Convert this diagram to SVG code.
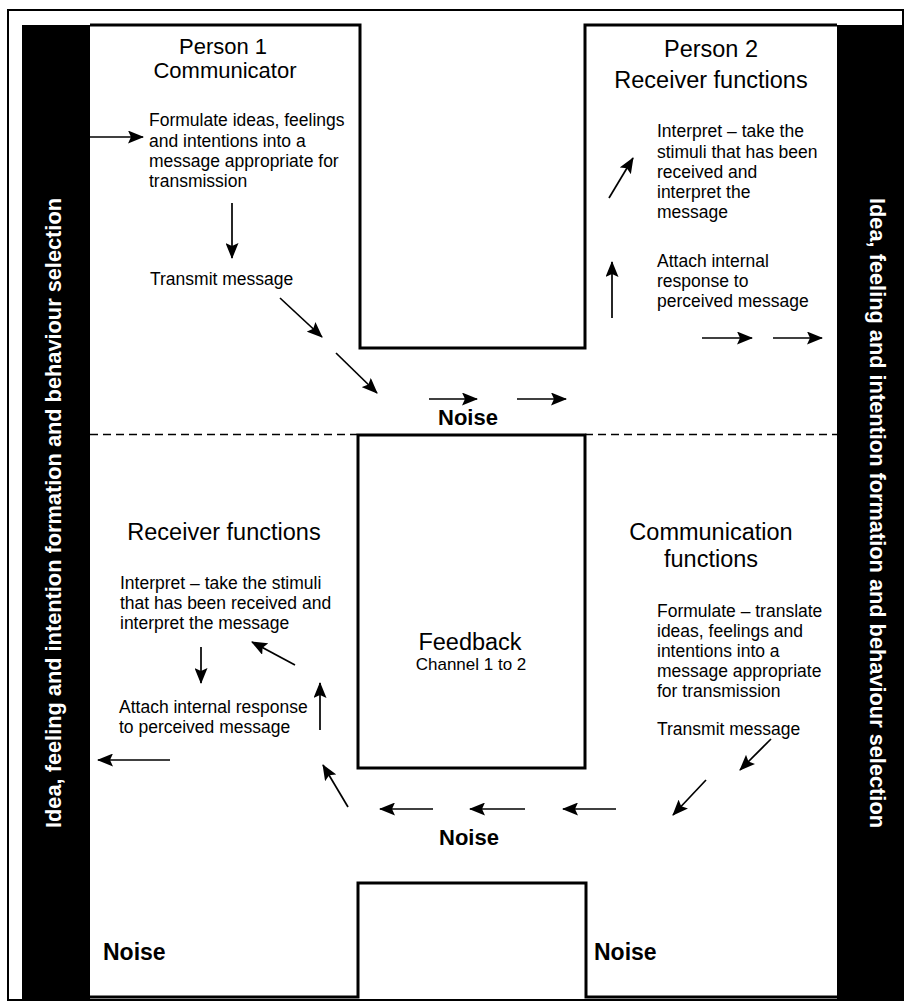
<svg xmlns="http://www.w3.org/2000/svg" width="905" height="1007" viewBox="0 0 905 1007">
<style>
.t{font-family:"Liberation Sans",Arial,sans-serif;font-size:17.5px;fill:#000}
.h{font-family:"Liberation Sans",Arial,sans-serif;font-size:23.5px;fill:#000;text-anchor:middle}
.n{font-family:"Liberation Sans",Arial,sans-serif;font-size:22px;font-weight:bold;fill:#000}
.bar{font-family:"Liberation Sans",Arial,sans-serif;font-size:21.5px;font-weight:bold;fill:#fff;text-anchor:middle}
.ol{fill:none;stroke:#000;stroke-width:3}
.ar{fill:none;stroke:#000;stroke-width:1.7;marker-end:url(#ah)}
</style>
<defs>
<marker id="ah" viewBox="0 0 16 13" refX="15" refY="6.5" markerWidth="16" markerHeight="13" orient="auto" markerUnits="userSpaceOnUse">
<path d="M0,0 L16,6.5 L0,13 L3,6.5 z" fill="#000"/>
</marker>
</defs>
<rect width="905" height="1007" fill="#fff"/>
<rect x="8" y="10" width="895" height="990" fill="none" stroke="#000" stroke-width="2"/>

<g id="left-bar">
<rect x="22" y="25" width="68" height="974" fill="#000"/>
<text class="bar" transform="translate(60.5,513) rotate(-90)" textLength="630" lengthAdjust="spacingAndGlyphs">Idea, feeling and intention formation and behaviour selection</text>
</g>
<g id="right-bar">
<rect x="837" y="25" width="66" height="974" fill="#000"/>
<text class="bar" transform="translate(869.5,513) rotate(90)" textLength="630" lengthAdjust="spacingAndGlyphs">Idea, feeling and intention formation and behaviour selection</text>
</g>

<g id="outline">
<path class="ol" d="M90 25 H360 V348 H585 V25 H837"/>
<path class="ol" d="M90 997 H358 V883 H586 V997 H837"/>
<path d="M90 434.5 H357 M585 434.5 H837" fill="none" stroke="#000" stroke-width="1.5" stroke-dasharray="8,5"/>
</g>

<g id="person1">
<text class="h" x="223" y="54" style="font-size:22px">Person 1</text>
<text class="h" x="225" y="78" style="font-size:22px">Communicator</text>
<text class="t" x="149" y="126">Formulate ideas, feelings</text>
<text class="t" x="149" y="147">and intentions into a</text>
<text class="t" x="149" y="167">message appropriate for</text>
<text class="t" x="149" y="187">transmission</text>
<text class="t" x="150" y="285">Transmit message</text>
</g>

<g id="person2">
<text class="h" x="711" y="57">Person 2</text>
<text class="h" x="711" y="88">Receiver functions</text>
<text class="t" x="657" y="137">Interpret – take the</text>
<text class="t" x="657" y="158">stimuli that has been</text>
<text class="t" x="657" y="178">received and</text>
<text class="t" x="657" y="198">interpret the</text>
<text class="t" x="657" y="218">message</text>
<text class="t" x="657" y="267">Attach internal</text>
<text class="t" x="657" y="287">response to</text>
<text class="t" x="657" y="307">perceived message</text>
</g>

<g id="noise-top">
<text class="n" x="438" y="425">Noise</text>
</g>

<g id="feedback">
<rect x="358" y="435" width="227" height="333" class="ol"/>
<text class="h" x="470" y="650">Feedback</text>
<text class="h" x="471" y="670" style="font-size:17px">Channel 1 to 2</text>
</g>

<g id="receiver-left">
<text class="h" x="224" y="540">Receiver functions</text>
<text class="t" x="120" y="589">Interpret – take the stimuli</text>
<text class="t" x="120" y="609">that has been received and</text>
<text class="t" x="120" y="629">interpret the message</text>
<text class="t" x="119" y="713">Attach internal response</text>
<text class="t" x="119" y="733">to perceived message</text>
</g>

<g id="communication-right">
<text class="h" x="711" y="540">Communication</text>
<text class="h" x="711" y="567">functions</text>
<text class="t" x="657" y="617">Formulate – translate</text>
<text class="t" x="657" y="637">ideas, feelings and</text>
<text class="t" x="657" y="657">intentions into a</text>
<text class="t" x="657" y="677">message appropriate</text>
<text class="t" x="657" y="697">for transmission</text>
<text class="t" x="657" y="735">Transmit message</text>
</g>

<g id="noise-bottom">
<text class="n" x="439" y="845">Noise</text>
<text class="n" x="103" y="960" style="font-size:23px">Noise</text>
<text class="n" x="594" y="960" style="font-size:23px">Noise</text>
</g>

<g id="connectors">
<line class="ar" x1="90" y1="137" x2="143" y2="137"/>
<line class="ar" x1="232" y1="203" x2="232" y2="258"/>
<line class="ar" x1="280" y1="298" x2="322" y2="337"/>
<line class="ar" x1="336" y1="353" x2="377" y2="393"/>
<line class="ar" x1="429" y1="399" x2="477" y2="399"/>
<line class="ar" x1="517" y1="399" x2="566" y2="399"/>
<line class="ar" x1="609" y1="198" x2="633" y2="158"/>
<line class="ar" x1="612" y1="318" x2="612" y2="262"/>
<line class="ar" x1="702" y1="338" x2="752" y2="338"/>
<line class="ar" x1="773" y1="338" x2="822" y2="338"/>
<line class="ar" x1="771" y1="739" x2="740" y2="770"/>
<line class="ar" x1="706" y1="780" x2="673" y2="815"/>
<line class="ar" x1="616" y1="809" x2="563" y2="809"/>
<line class="ar" x1="525" y1="809" x2="470" y2="809"/>
<line class="ar" x1="433" y1="809" x2="380" y2="809"/>
<line class="ar" x1="348" y1="807" x2="323" y2="765"/>
<line class="ar" x1="320" y1="730" x2="320" y2="683"/>
<line class="ar" x1="295" y1="665" x2="252" y2="642"/>
<line class="ar" x1="201" y1="647" x2="201" y2="683"/>
<line class="ar" x1="170" y1="760" x2="98" y2="760"/>
</g>
</svg>
